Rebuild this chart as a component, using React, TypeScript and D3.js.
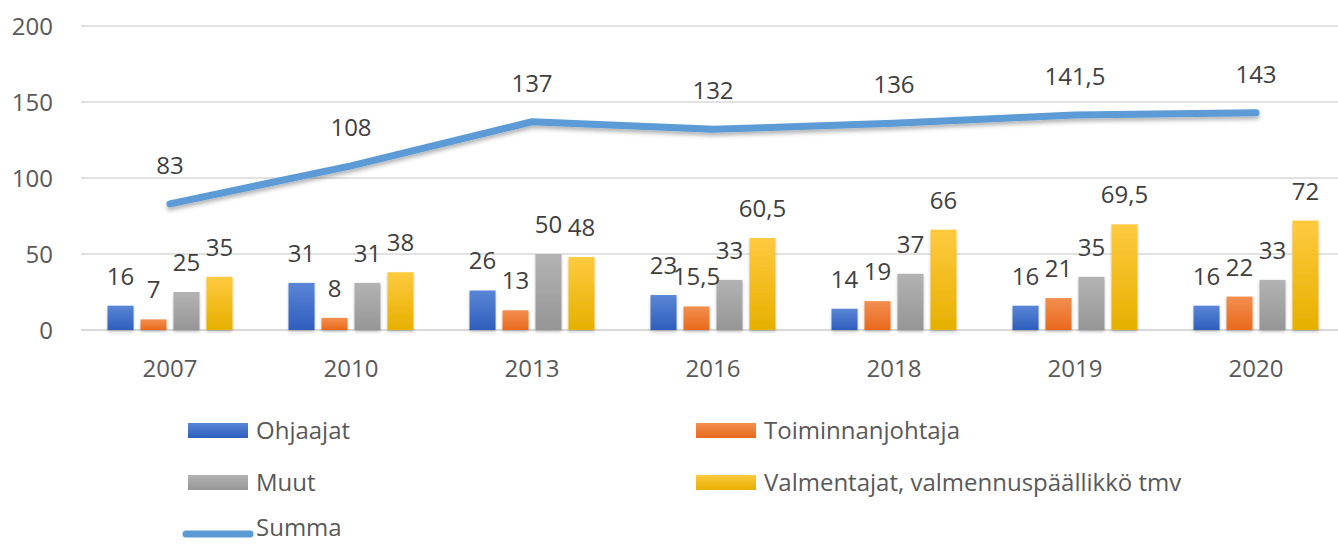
import React from "react";
import * as d3 from "d3";

const years = ["2007", "2010", "2013", "2016", "2018", "2019", "2020"];
const ohjaajat = [16, 31, 26, 23, 14, 16, 16];
const toiminnanjohtaja = [7, 8, 13, 15.5, 19, 21, 22];
const muut = [25, 31, 50, 33, 37, 35, 33];
const valmentajat = [35, 38, 48, 60.5, 66, 69.5, 72];
const summa = [83, 108, 137, 132, 136, 141.5, 143];
const yTicks = [0, 50, 100, 150, 200];

const seriesNames = ["Ohjaajat", "Toiminnanjohtaja", "Muut", "Valmentajat, valmennuspäällikkö tmv"];
const seriesValues = [ohjaajat, toiminnanjohtaja, muut, valmentajat];
const seriesGrad = [
  ["#5a86d6", "#2e5ebd"],
  ["#f38f50", "#e8691c"],
  ["#b3b3b3", "#969696"],
  ["#ffca3f", "#e6b000"],
];
const lineColor = "#5b9bd5";
const textColor = "#595959";
const FONT = "'Open Sans', sans-serif";
const FS = 24;

const W = 1338;
const H = 544;

const fmt = (v: number) => String(v).replace(".", ",");

export default function App() {
  const x = d3.scaleBand<string>().domain(years).range([79.5, 1346.5]).padding(0);
  const inner = d3
    .scaleBand<string>()
    .domain(seriesNames)
    .range([-62.5, 62.5])
    .paddingInner(0.21)
    .paddingOuter(0);
  const y = d3.scaleLinear().domain([0, 200]).range([330, 26]);
  const cx = (i: number) => (x(years[i]) as number) + x.bandwidth() / 2;

  const line = d3
    .line<number>()
    .x((_, i) => cx(i))
    .y((d) => y(d));

  const legendItems = [
    { kind: "bar", s: 0, x: 188, y: 431 },
    { kind: "bar", s: 1, x: 696, y: 431 },
    { kind: "bar", s: 2, x: 188, y: 483 },
    { kind: "bar", s: 3, x: 696, y: 483 },
    { kind: "line", s: -1, x: 188, y: 534 },
  ];

  return (
    <svg
      width={W}
      height={H}
      style={{ position: "absolute", left: 0, top: 0, background: "#fff" }}
      fontFamily={FONT}
    >
      <defs>
        {seriesGrad.map((g, i) => (
          <linearGradient key={i} id={`g${i}`} x1="0" y1="0" x2="0" y2="1">
            <stop offset="0%" stopColor={g[0]} />
            <stop offset="100%" stopColor={g[1]} />
          </linearGradient>
        ))}
        <filter id="shadow" x="-20%" y="-50%" width="140%" height="200%">
          <feDropShadow dx="0" dy="3" stdDeviation="2" floodColor="#000" floodOpacity="0.3" />
        </filter>
        <filter id="barshadow" x="-20%" y="-20%" width="140%" height="140%">
          <feDropShadow dx="0" dy="2" stdDeviation="1.5" floodColor="#000" floodOpacity="0.22" />
        </filter>
      </defs>

      {/* grid */}
      {yTicks.map((t) => (
        <g key={t}>
          <line x1={81} x2={W} y1={y(t)} y2={y(t)} stroke="#d9d9d9" strokeWidth={t === 0 ? 2 : 1.5} />
          <text x={53} y={y(t)} dy="0.36em" textAnchor="end" fontSize={FS} fill={textColor}>
            {t}
          </text>
        </g>
      ))}

      {/* bars */}
      {seriesValues.map((vals, s) => (
        <g key={s}>
          {vals.map((v, i) => {
            const bx = cx(i) + (inner(seriesNames[s]) as number);
            return (
              <rect
                key={i}
                x={bx}
                y={y(v)}
                width={inner.bandwidth()}
                height={y(0) - y(v)}
                fill={`url(#g${s})`}
                filter="url(#barshadow)"
              />
            );
          })}
        </g>
      ))}

      {/* bar labels */}
      {seriesValues.map((vals, s) => (
        <g key={"l" + s}>
          {vals.map((v, i) => {
            const bx = cx(i) + (inner(seriesNames[s]) as number) + inner.bandwidth() / 2;
            return (
              <text key={i} x={bx} y={y(v) - 21} textAnchor="middle" fontSize={FS} fill="#404040">
                {fmt(v)}
              </text>
            );
          })}
        </g>
      ))}

      {/* line */}
      <path
        d={line(summa) || ""}
        fill="none"
        stroke={lineColor}
        strokeWidth={7}
        strokeLinecap="round"
        strokeLinejoin="round"
        filter="url(#shadow)"
      />
      {summa.map((v, i) => (
        <text key={i} x={cx(i)} y={y(v) - 30} textAnchor="middle" fontSize={FS} fill="#404040">
          {fmt(v)}
        </text>
      ))}

      {/* x labels */}
      {years.map((yr, i) => (
        <text key={yr} x={cx(i)} y={377} textAnchor="middle" fontSize={FS} fill={textColor}>
          {yr}
        </text>
      ))}

      {/* legend */}
      {legendItems.map((it, k) => (
        <g key={k}>
          {it.kind === "bar" ? (
            <rect x={it.x} y={it.y - 8} width={60} height={15} fill={`url(#g${it.s})`} />
          ) : (
            <line
              x1={it.x - 2}
              x2={it.x + 62}
              y1={it.y}
              y2={it.y}
              stroke={lineColor}
              strokeWidth={7}
              strokeLinecap="round"
            />
          )}
          <text
            x={it.kind === "bar" ? it.x + 68 : 256}
            y={it.kind === "bar" ? it.y + 8 : 536}
            fontSize={FS}
            fill={textColor}
          >
            {it.kind === "bar" ? seriesNames[it.s] : "Summa"}
          </text>
        </g>
      ))}
    </svg>
  );
}
